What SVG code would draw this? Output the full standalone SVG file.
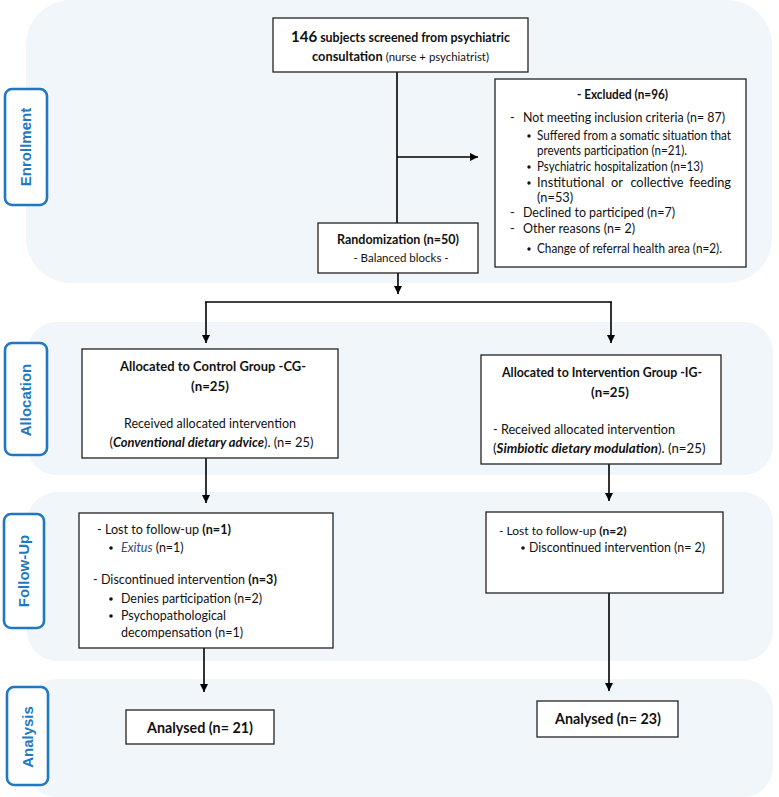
<svg xmlns="http://www.w3.org/2000/svg" width="779" height="797" viewBox="0 0 779 797">
<defs>
<marker id="ah" markerUnits="userSpaceOnUse" markerWidth="9" markerHeight="8" refX="8" refY="4" orient="auto">
<path d="M0,0 L8,4 L0,8 z" fill="#000"/>
</marker>
<style>
.panel{fill:#f0f6fa;}
.lab{fill:#fff;stroke:#1f78c1;stroke-width:2.6;}
.labt{font-family:"Liberation Sans",Arial,sans-serif;font-weight:bold;font-size:15px;fill:#1f78c1;text-anchor:middle;}
.box{fill:#fff;stroke:#222;stroke-width:1.3;}
.t{font-family:Lato,"Liberation Sans",sans-serif;fill:#111;}
.m{font-size:13.3px;}
.s{font-size:12.8px;}
.b{font-weight:bold;}
.c{text-anchor:middle;}
.conn line{stroke:#000;stroke-width:1.6;}
.arr{marker-end:url(#ah);}
</style>
</defs>

<g id="panels">
<rect class="panel" x="26" y="0" width="746" height="283" rx="45"/>
<rect class="panel" x="27" y="322" width="746" height="153" rx="30"/>
<rect class="panel" x="27" y="492" width="746" height="169" rx="30"/>
<rect class="panel" x="27" y="679" width="746" height="118" rx="30"/>
</g>

<g id="label-enrollment">
<rect class="lab" x="5" y="89" width="42" height="116" rx="7"/>
<text class="labt" transform="translate(31,147) rotate(-90)">Enrollment</text>
</g>
<g id="label-allocation">
<rect class="lab" x="5" y="343" width="42" height="112" rx="7"/>
<text class="labt" transform="translate(31,400) rotate(-90)">Allocation</text>
</g>
<g id="label-followup">
<rect class="lab" x="4" y="514" width="40" height="114" rx="7"/>
<text class="labt" transform="translate(29,571) rotate(-90)">Follow-Up</text>
</g>
<g id="label-analysis">
<rect class="lab" x="7" y="687" width="41" height="98" rx="7"/>
<text class="labt" transform="translate(33,737) rotate(-90)">Analysis</text>
</g>

<g class="conn" id="connectors">
<line x1="397" y1="72" x2="397" y2="223"/>
<line class="arr" x1="397" y1="157" x2="478" y2="157"/>
<line class="arr" x1="398" y1="273" x2="398" y2="294"/>
<line x1="205" y1="302" x2="612" y2="302"/>
<line class="arr" x1="206" y1="302" x2="206" y2="343"/>
<line class="arr" x1="611" y1="302" x2="611" y2="343"/>
<line class="arr" x1="206" y1="458" x2="206" y2="503"/>
<line class="arr" x1="609" y1="464" x2="609" y2="501"/>
<line class="arr" x1="204" y1="648" x2="204" y2="692"/>
<line class="arr" x1="609" y1="593" x2="609" y2="691"/>
</g>

<g id="screened">
<rect class="box" x="273" y="18" width="255" height="54"/>
<text class="t b c" x="400.5" y="42" font-size="12.4"><tspan font-size="15">146</tspan> subjects screened from psychiatric</text>
<text class="t c" x="400.5" y="61" font-size="12"><tspan class="b" font-size="12.8">consultation</tspan> <tspan font-size="11.4">(nurse + psychiatrist)</tspan></text>
</g>

<g id="excluded">
<rect class="box" x="495" y="79" width="251" height="188"/>
<text class="t b" x="577" y="99" font-size="12.8" textLength="91" lengthAdjust="spacingAndGlyphs">- Excluded (n=96)</text>
<text class="t" x="510" y="122" font-size="12.5">-</text>
<text class="t" x="523" y="122" font-size="12.9" textLength="202" lengthAdjust="spacingAndGlyphs">Not meeting inclusion criteria (n= 87)</text>
<circle cx="529" cy="136" r="1.7" fill="#111"/>
<text class="t s" x="537" y="140" textLength="194" lengthAdjust="spacingAndGlyphs">Suffered from a somatic situation that</text>
<text class="t s" x="537" y="155" textLength="150" lengthAdjust="spacingAndGlyphs">prevents participation (n=21).</text>
<circle cx="529" cy="167" r="1.7" fill="#111"/>
<text class="t s" x="537" y="171" textLength="166" lengthAdjust="spacingAndGlyphs">Psychiatric hospitalization (n=13)</text>
<circle cx="529" cy="183" r="1.7" fill="#111"/>
<text class="t s" x="537" y="187">Institutional</text>
<text class="t s c" x="617" y="187">or</text>
<text class="t s c" x="657" y="187">collective</text>
<text class="t s" x="731" y="187" text-anchor="end">feeding</text>
<text class="t s" x="537" y="202">(n=53)</text>
<text class="t" x="510" y="217" font-size="12.5">-</text>
<text class="t" x="523" y="217" font-size="12.8" textLength="152" lengthAdjust="spacingAndGlyphs">Declined to participed (n=7)</text>
<text class="t" x="510" y="233" font-size="12.5">-</text>
<text class="t" x="523" y="233" font-size="12.8" textLength="112" lengthAdjust="spacingAndGlyphs">Other reasons (n= 2)</text>
<circle cx="529" cy="249" r="1.7" fill="#111"/>
<text class="t s" x="537" y="253" textLength="185" lengthAdjust="spacingAndGlyphs">Change of referral health area (n=2).</text>
</g>

<g id="randomization">
<rect class="box" x="318" y="223" width="160" height="50"/>
<text class="t b" x="337" y="244" font-size="12.8" textLength="122" lengthAdjust="spacingAndGlyphs">Randomization (n=50)</text>
<text class="t c" x="401" y="262" font-size="11.5">- Balanced blocks -</text>
</g>

<g id="alloc-cg">
<rect class="box" x="82" y="349" width="256" height="109"/>
<text class="t m b" x="120" y="371" textLength="186" lengthAdjust="spacingAndGlyphs">Allocated to Control Group -CG-</text>
<text class="t m b c" x="210" y="391">(n=25)</text>
<text class="t m" x="124" y="428" textLength="172" lengthAdjust="spacingAndGlyphs">Received allocated intervention</text>
<text class="t c" x="211.5" y="447" font-size="12.9">(<tspan class="b" font-style="italic">Conventional dietary advice</tspan>). (n= 25)</text>
</g>

<g id="alloc-ig">
<rect class="box" x="481" y="355" width="240" height="109"/>
<text class="t m b" x="502" y="377" textLength="200" lengthAdjust="spacingAndGlyphs">Allocated to Intervention Group -IG-</text>
<text class="t m b c" x="610" y="397">(n=25)</text>
<text class="t m" x="493" y="434" textLength="182" lengthAdjust="spacingAndGlyphs">- Received allocated intervention</text>
<text class="t" x="493" y="453" font-size="13.3">(<tspan class="b" font-style="italic">Simbiotic dietary modulation</tspan>). (n=25)</text>
</g>

<g id="followup-cg">
<rect class="box" x="79" y="513" width="254" height="135"/>
<text class="t" x="97" y="534" font-size="12.6">- Lost to follow-up <tspan class="b">(n=1)</tspan></text>
<circle cx="111" cy="548" r="1.8" fill="#111"/>
<text class="t" x="121" y="552" font-size="12.5"><tspan font-style="italic" fill="#2b4c80">Exitus</tspan> (n=1)</text>
<text class="t" x="93" y="584" font-size="12.6">- Discontinued intervention <tspan class="b">(n=3)</tspan></text>
<circle cx="111" cy="599" r="1.8" fill="#111"/>
<text class="t m" x="121" y="603" textLength="141" lengthAdjust="spacingAndGlyphs">Denies participation (n=2)</text>
<circle cx="111" cy="616" r="1.8" fill="#111"/>
<text class="t m" x="121" y="620" textLength="105" lengthAdjust="spacingAndGlyphs">Psychopathological</text>
<text class="t m" x="121" y="637" textLength="122" lengthAdjust="spacingAndGlyphs">decompensation (n=1)</text>
</g>

<g id="followup-ig">
<rect class="box" x="486" y="512" width="237" height="81"/>
<text class="t" x="499" y="535" font-size="12">- Lost to follow-up <tspan class="b">(n=2)</tspan></text>
<circle cx="523" cy="548" r="1.8" fill="#111"/>
<text class="t m" x="529" y="552" textLength="176" lengthAdjust="spacingAndGlyphs">Discontinued intervention (n= 2)</text>
</g>

<g id="analysis-cg">
<rect class="box" x="126" y="710" width="148" height="34"/>
<text class="t b" x="147" y="733" font-size="15.2" textLength="106" lengthAdjust="spacingAndGlyphs">Analysed (n= 21)</text>
</g>
<g id="analysis-ig">
<rect class="box" x="537" y="701" width="141" height="36"/>
<text class="t b" x="555" y="724" font-size="15.2" textLength="106" lengthAdjust="spacingAndGlyphs">Analysed (n= 23)</text>
</g>
</svg>
